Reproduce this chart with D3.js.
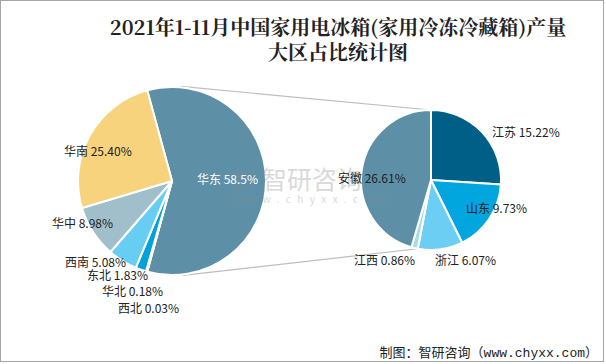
<!DOCTYPE html>
<html><head><meta charset="utf-8">
<script src="https://cdn.jsdelivr.net/npm/d3@7"></script>
<style>
html,body{margin:0;padding:0;background:#fff;}
svg{display:block;}
text{font-family:"Noto Sans CJK SC","Microsoft YaHei",sans-serif;}
</style></head>
<body>
<script>
// ---- data ----
const mainCategories = ["华东","西北","华北","东北","西南","华中","华南"];
const mainValues     = [58.5, 0.03, 0.18, 1.83, 5.08, 8.98, 25.40];
const mainLabels     = ["华东 58.5%","西北 0.03%","华北 0.18%","东北 1.83%","西南 5.08%","华中 8.98%","华南 25.40%"];
const subCategories  = ["江苏","山东","浙江","江西","安徽"];
const subValues      = [15.22, 9.73, 6.07, 0.86, 26.61];
const subLabels      = ["江苏 15.22%","山东 9.73%","浙江 6.07%","江西 0.86%","安徽 26.61%"];
const titleLines     = ["2021年1-11月中国家用电冰箱(家用冷冻冷藏箱)产量","大区占比统计图"];
const sourceText     = "制图：智研咨询（www.chyxx.com）";

const W = 606, H = 364;
const mainColors = {"华东":"#5D90A7","西北":"#4E7F96","华北":"#1E6F93","东北":"#00A2DC","西南":"#68CDF2","华中":"#A1BFCB","华南":"#F6D37C"};
const subColors  = {"江苏":"#005F86","山东":"#00A6DD","浙江":"#6BCEF2","江西":"#A8DDDC","安徽":"#5D90A7"};

const svg = d3.select("body").append("svg").attr("width", W).attr("height", H);
svg.append("rect").attr("x",0.5).attr("y",0.5).attr("width",603).attr("height",361)
   .attr("fill","#fff").attr("stroke","#a6a6a6").attr("stroke-width",1);

// title
svg.append("g").selectAll("text").data(titleLines).join("text")
  .attr("x", 338).attr("y", (d,i)=> 35 + i*25)
  .attr("text-anchor","middle")
  .style("font-family",'"Noto Serif CJK SC","Noto Sans CJK SC",serif')
  .style("font-size","20px").style("font-weight","bold").attr("fill","#222")
  .text(d=>d);

// pies
const mc = {x:172, y:181, r:94};
const sc = {x:431, y:180, r:70};
const mainTotal = d3.sum(mainValues);
const splitAngle = mainValues[0]/mainTotal*2*Math.PI;
const mainStart = Math.PI/2 - splitAngle/2;

const mainPie = d3.pie().sort(null).value(d=>d.v).startAngle(mainStart).endAngle(mainStart+2*Math.PI);
const subPie  = d3.pie().sort(null).value(d=>d.v).startAngle(0).endAngle(2*Math.PI);
const mainArcs = mainPie(mainCategories.map((c,i)=>({c, v:mainValues[i], l:mainLabels[i]})));
const subArcs  = subPie(subCategories.map((c,i)=>({c, v:subValues[i], l:subLabels[i]})));

// connector lines (tangent to main pie from sub pie points)
function ptOn(center, r, a){ return [center.x + r*Math.sin(a), center.y - r*Math.cos(a)]; }
function tangent(P, C, R, pickTop){
  const dx=P[0]-C.x, dy=P[1]-C.y, d=Math.hypot(dx,dy);
  const th=Math.atan2(dy,dx), al=Math.acos(R/d);
  const a1=th-al, a2=th+al;
  const p1=[C.x+R*Math.cos(a1), C.y+R*Math.sin(a1)], p2=[C.x+R*Math.cos(a2), C.y+R*Math.sin(a2)];
  return pickTop ? (p1[1]<p2[1]?p1:p2) : (p1[1]>p2[1]?p1:p2);
}
const jx = subArcs.find(d=>d.data.c==="江西");
const subTop = ptOn(sc, sc.r, subArcs[0].startAngle);
const subBot = ptOn(sc, sc.r, jx.startAngle);
const lines = [[tangent(subTop, mc, mc.r+1, true), subTop],[tangent(subBot, mc, mc.r+1, false), subBot]];
svg.append("g").selectAll("line").data(lines).join("line")
  .attr("x1",d=>d[0][0]).attr("y1",d=>d[0][1]).attr("x2",d=>d[1][0]).attr("y2",d=>d[1][1])
  .attr("stroke","#bdbdbd").attr("stroke-width",1.2);

const arcM = d3.arc().innerRadius(0).outerRadius(mc.r);
const arcS = d3.arc().innerRadius(0).outerRadius(sc.r);
svg.append("g").attr("transform",`translate(${mc.x},${mc.y})`)
  .selectAll("path").data(mainArcs).join("path")
  .attr("d",arcM).attr("fill",d=>mainColors[d.data.c])
  .attr("stroke","#fff").attr("stroke-width",2).attr("stroke-linejoin","round");
svg.append("g").attr("transform",`translate(${sc.x},${sc.y})`)
  .selectAll("path").data(subArcs).join("path")
  .attr("d",arcS).attr("fill",d=>subColors[d.data.c])
  .attr("stroke","#fff").attr("stroke-width",2).attr("stroke-linejoin","round");

// watermark
const wm = svg.append("g").attr("opacity",0.32);
wm.append("text").attr("x",232).attr("y",190).style("font-size","26px").style("font-weight","bold")
  .attr("fill","#7a8a99").text("Zi");
wm.append("text").attr("x",262).attr("y",189).style("font-size","25px").attr("fill","#8a8a8a").text("智研咨询");
wm.append("text").attr("x",234).attr("y",203).style("font-size","10px").style("letter-spacing","6.4px")
  .attr("fill","#8a8a8a").text("www.chyxx.com");

// labels
const mainLabelPos = {"华东":[197,184],"华南":[64,156],"华中":[52,228],"西南":[65,267],"东北":[87,280],"华北":[102,296],"西北":[118,313]};
const subLabelPos  = {"江苏":[492,137],"安徽":[338,183],"山东":[466,213],"浙江":[435,265],"江西":[354,265]};
svg.append("g").selectAll("text").data(mainArcs).join("text")
  .attr("x",d=>mainLabelPos[d.data.c][0]).attr("y",d=>mainLabelPos[d.data.c][1])
  .style("font-size","12px").attr("fill",d=>d.data.c==="华东"?"#fff":"#222")
  .text(d=>d.data.l);
svg.append("g").selectAll("text").data(subArcs).join("text")
  .attr("x",d=>subLabelPos[d.data.c][0]).attr("y",d=>subLabelPos[d.data.c][1])
  .style("font-size","12px").attr("fill","#222")
  .text(d=>d.data.l);

// source
svg.append("text").attr("x",598).attr("y",357).attr("text-anchor","end")
  .style("font-family",'"Liberation Mono","Noto Sans CJK SC",monospace')
  .style("font-size","13px").attr("fill","#222").text(sourceText);
</script>
</body></html>
